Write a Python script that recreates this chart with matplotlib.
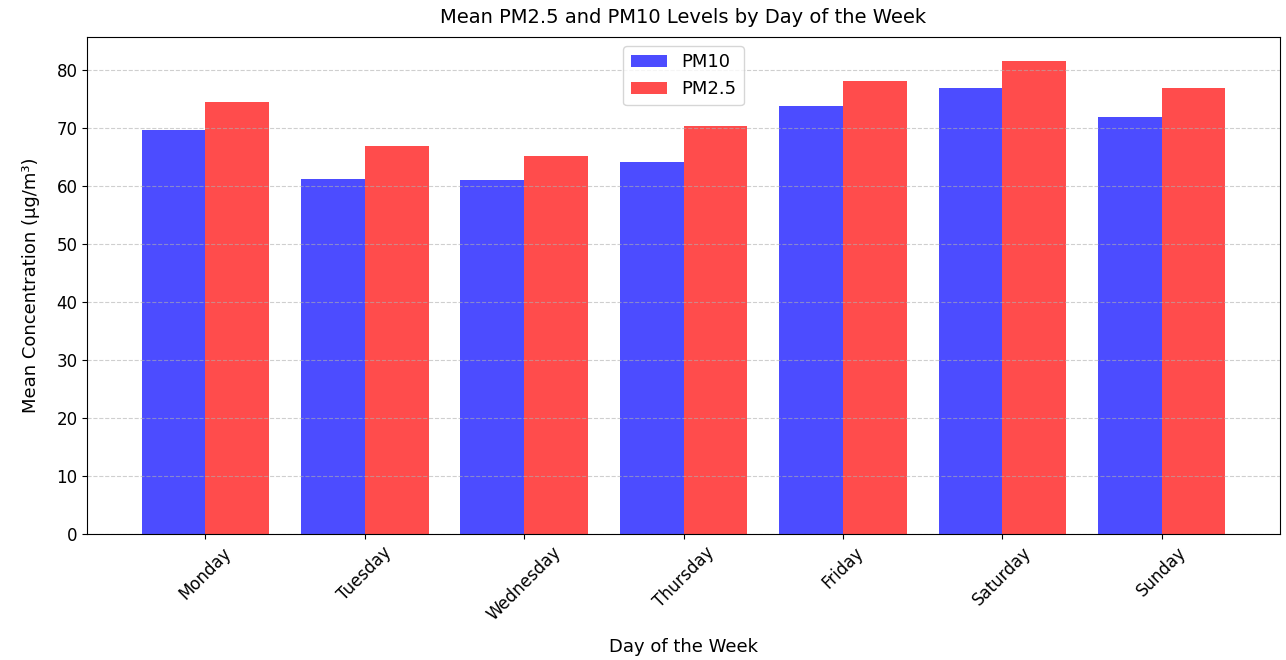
import numpy as np
import matplotlib
matplotlib.use("Agg")
import matplotlib.pyplot as plt

days = ["Monday", "Tuesday", "Wednesday", "Thursday", "Friday", "Saturday", "Sunday"]
pm10 = [69.7, 61.2, 61.0, 64.1, 73.7, 76.9, 71.9]
pm25 = [74.4, 66.8, 65.2, 70.3, 78.1, 81.6, 76.9]

x = np.arange(len(days))
w = 0.4

fig, ax = plt.subplots(figsize=(12.86, 6.6), dpi=100)
fig.subplots_adjust(left=0.068, right=0.995, top=0.944, bottom=0.191)

ax.bar(x - w/2, pm10, w, label='PM10', color='blue', alpha=0.7)
ax.bar(x + w/2, pm25, w, label='PM2.5', color='red', alpha=0.7)

ax.set_title('Mean PM2.5 and PM10 Levels by Day of the Week', fontsize=14, pad=10)
ax.set_xlabel('Day of the Week', fontsize=13, labelpad=10)
ax.set_ylabel('Mean Concentration (µg/m³)', fontsize=13, labelpad=12)
ax.set_xticks(x)
ax.set_xticklabels(days, rotation=45, fontsize=12)
ax.tick_params(axis='y', labelsize=12)
ax.legend(loc='upper center', fontsize=13)
ax.grid(axis='y', linestyle='--', alpha=0.6)

fig.savefig('out.png')
